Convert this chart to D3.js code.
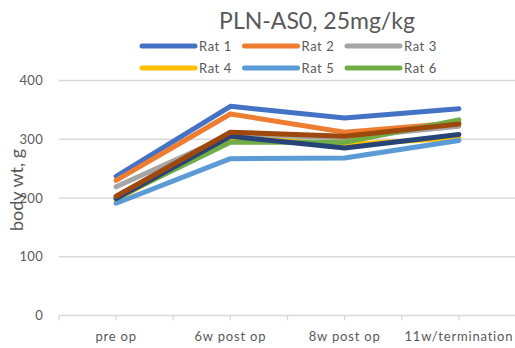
<!DOCTYPE html>
<html>
<head>
<meta charset="utf-8">
<script src="https://cdn.jsdelivr.net/npm/d3@7"></script>
<style>
  html, body { margin: 0; padding: 0; background: #fff; }
  svg { display: block; font-family: Lato, "Open Sans", sans-serif; }
</style>
</head>
<body>
<svg id="chart" width="515" height="348"></svg>
<script>
// Body weight per rat across study time points
const timepoints = ["pre op", "6w post op", "8w post op", "11w/termination"];
const rat1 = [237, 356, 336, 352];
const rat2 = [230, 343, 312, 328];
const rat3 = [219, 307, 303, 322];
const rat4 = [197, 303, 291, 302];
const rat5 = [191, 267, 268, 298];
const rat6 = [200, 295, 295, 333];
const rat7 = [199, 305, 285, 308];
const rat8 = [203, 312, 305, 326];
const ratNames = ["Rat 1", "Rat 2", "Rat 3", "Rat 4", "Rat 5", "Rat 6", "Rat 7", "Rat 8"];
const ratColors = ["#4472C4", "#ED7D31", "#A5A5A5", "#FFC000", "#5B9BD5", "#70AD47", "#264478", "#9E480E"];
const yTicks = [0, 100, 200, 300, 400];
const legendCount = 6; // entries that fit in the legend box

const series = [rat1, rat2, rat3, rat4, rat5, rat6, rat7, rat8].map((v, i) => ({
  name: ratNames[i], color: ratColors[i], values: v
}));

const svg = d3.select("#chart");
const plot = { left: 59, right: 516, top: 80.5, bottom: 315.5 };
const textColor = "#595959";

const x = d3.scaleBand().domain(timepoints).range([plot.left, plot.right]).padding(0);
const xc = d => x(d) + x.bandwidth() / 2;
const y = d3.scaleLinear().domain([0, 400]).range([plot.bottom, plot.top]);

// horizontal gridlines
svg.append("g").selectAll("line").data(yTicks.filter(t => t > 0)).join("line")
  .attr("x1", plot.left).attr("x2", plot.right)
  .attr("y1", d => y(d)).attr("y2", d => y(d))
  .attr("stroke", "#D9D9D9").attr("stroke-width", 1.3);

// y axis labels
const yAxis = svg.append("g").attr("transform", `translate(${plot.left},0)`)
  .call(d3.axisLeft(y).tickValues(yTicks).tickSize(0).tickPadding(16));
yAxis.select(".domain").remove();
yAxis.selectAll("text").attr("fill", textColor).attr("font-size", 13)
  .attr("font-family", "Lato, sans-serif").attr("letter-spacing", 0.3);

// category axis baseline with tick marks at every half band
svg.append("line")
  .attr("x1", plot.left).attr("x2", plot.right)
  .attr("y1", y(0)).attr("y2", y(0))
  .attr("stroke", "#D9D9D9").attr("stroke-width", 1.3);
const halfTicks = d3.range(0, timepoints.length * 2 + 1).map(i => plot.left + i * x.bandwidth() / 2);
svg.append("g").selectAll("line").data(halfTicks).join("line")
  .attr("x1", d => d).attr("x2", d => d)
  .attr("y1", y(0)).attr("y2", y(0) + 5)
  .attr("stroke", "#D9D9D9").attr("stroke-width", 1.3);

svg.append("g").selectAll("text").data(timepoints).join("text")
  .attr("x", d => xc(d)).attr("y", 341)
  .attr("text-anchor", "middle")
  .attr("fill", textColor).attr("font-size", 13).attr("letter-spacing", 0.8)
  .text(d => d);

// axis title
svg.append("text")
  .attr("transform", "translate(23,190) rotate(-90)")
  .attr("text-anchor", "middle")
  .attr("fill", textColor).attr("font-size", 18)
  .text("body wt, g");

// chart title
svg.append("text")
  .attr("x", 317).attr("y", 29)
  .attr("text-anchor", "middle")
  .attr("fill", textColor).attr("font-size", 23)
  .text("PLN-AS0, 25mg/kg");

// series lines
const line = d3.line().x((d, i) => xc(timepoints[i])).y(d => y(d));
svg.append("g").selectAll("path").data(series).join("path")
  .attr("d", d => line(d.values))
  .attr("fill", "none")
  .attr("stroke", d => d.color)
  .attr("stroke-width", 5)
  .attr("stroke-linecap", "round")
  .attr("stroke-linejoin", "round");

// legend (3 columns)
const legend = svg.append("g").selectAll("g").data(series.slice(0, legendCount)).join("g")
  .attr("transform", (d, i) => `translate(${142 + (i % 3) * 102.5},${46 + Math.floor(i / 3) * 22})`);
legend.append("line")
  .attr("x1", 0).attr("x2", 53).attr("y1", 0).attr("y2", 0)
  .attr("stroke", d => d.color).attr("stroke-width", 5).attr("stroke-linecap", "round");
legend.append("text")
  .attr("x", 57).attr("y", 4.5)
  .attr("fill", textColor).attr("font-size", 13).attr("letter-spacing", 0.6)
  .text(d => d.name);
</script>
</body>
</html>
